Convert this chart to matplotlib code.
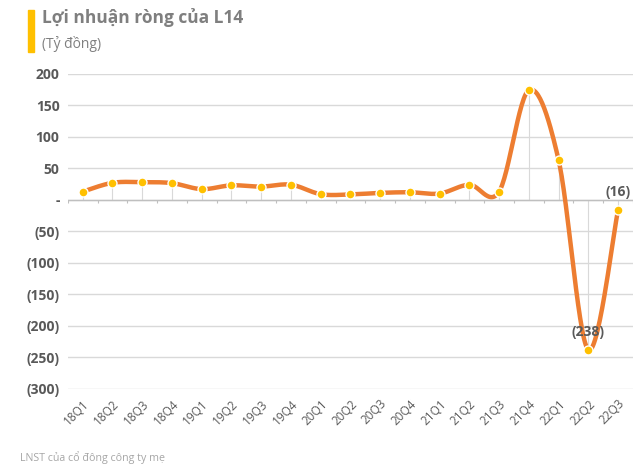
import numpy as np
import matplotlib.pyplot as plt

quarters = ['18Q1', '18Q2', '18Q3', '18Q4', '19Q1', '19Q2', '19Q3', '19Q4',
            '20Q1', '20Q2', '20Q3', '20Q4', '21Q1', '21Q2', '21Q3', '21Q4',
            '22Q1', '22Q2', '22Q3']
profit = [13, 27, 28, 26.5, 17, 23, 21, 24, 9, 8.5, 11, 12, 10, 24, 13, 174, 63, -238, -16]
yticks = [200, 150, 100, 50, 0, -50, -100, -150, -200, -250, -300]

ORANGE = '#ED7D31'
GOLD = '#FFC000'
GREY = '#595959'

plt.rcParams['font.family'] = ['Open Sans', 'DejaVu Sans']


def smooth(x, y, n=30):
    # parametric Catmull-Rom curve through the points, similar to Excel's smoothed line
    px = np.concatenate([[x[0]], x, [x[-1]]])
    py = np.concatenate([[y[0]], y, [y[-1]]])
    xs, ys = [], []
    t = np.linspace(0, 1, n)
    for i in range(1, len(px) - 2):
        for p, out in ((px, xs), (py, ys)):
            p0, p1, p2, p3 = p[i - 1], p[i], p[i + 1], p[i + 2]
            m1 = (p2 - p0) / 2
            m2 = (p3 - p1) / 2
            h00 = 2 * t**3 - 3 * t**2 + 1
            h10 = t**3 - 2 * t**2 + t
            h01 = -2 * t**3 + 3 * t**2
            h11 = t**3 - t**2
            out.extend(h00 * p1 + h10 * m1 + h01 * p2 + h11 * m2)
    return np.array(xs), np.array(ys)


fig = plt.figure(figsize=(6.4, 4.76), dpi=100)
ax = fig.add_axes([0.106, 0.183, 0.883, 0.662])

x = np.arange(len(quarters))
ax.vlines(x, 0, profit, color='#D9D9D9', lw=0.8, zorder=1)
sx, sy = smooth(x.astype(float), np.array(profit, dtype=float))
ax.plot(sx, sy, color=ORANGE, lw=3.2, solid_capstyle='round', zorder=3)
ax.scatter(x, profit, s=42, color=GOLD, edgecolor='white', linewidth=1, zorder=4)

ax.axhline(0, color='#BFBFBF', lw=1, zorder=2)
ax.vlines(np.arange(len(quarters) + 1) - 0.5, -5, 0, color='#BFBFBF', lw=0.8, zorder=2)

for i in (17, 18):
    v = profit[i]
    ax.annotate(f'({abs(v):.0f})', (x[i], v), xytext=(0, 8), textcoords='offset points',
                ha='center', va='bottom', fontsize=10, fontweight='bold', color=GREY)

ax.set_xlim(-0.5, len(quarters) - 0.5)
ax.set_ylim(-300, 200)
ax.set_yticks(yticks)
ax.set_yticklabels([f'({-v})' if v < 0 else ('-' if v == 0 else str(v)) for v in yticks],
                   fontsize=10, fontweight='bold', color=GREY)
ax.set_xticks(x)
ax.set_xticklabels(quarters, rotation=45, ha='right', rotation_mode='anchor',
                   fontsize=8.5, color=GREY)
ax.tick_params(length=0, pad=6)
ax.tick_params(axis='y', pad=6)
ax.grid(axis='y', color='#D9D9D9', lw=1)
ax.set_axisbelow(True)
for s in ax.spines.values():
    s.set_visible(False)

fig.patches.append(plt.Rectangle((28 / 640, 1 - 52 / 476), 6 / 640, 42 / 476,
                                 transform=fig.transFigure, color=GOLD))
fig.text(42 / 640, 1 - 18 / 476, 'Lợi nhuận ròng của L14', fontsize=12.5, fontweight='bold',
         color='#7F7F7F', va='center')
fig.text(42 / 640, 1 - 44 / 476, '(Tỷ đồng)', fontsize=10, color='#7F7F7F', va='center')
fig.text(20 / 640, 1 - 458 / 476, 'LNST của cổ đông công ty mẹ', fontsize=7.7,
         color='#A6A6A6', va='center')

fig.savefig('out.png', dpi=100)
